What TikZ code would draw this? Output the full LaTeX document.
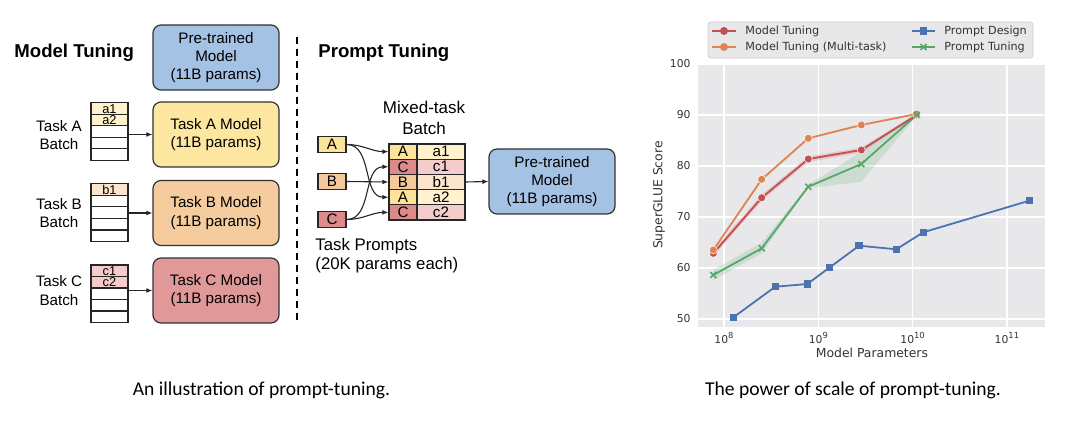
\documentclass[tikz,border=0pt]{standalone}
\usepackage{fontspec}
\setmainfont{Liberation Sans}
\newfontfamily\plotfont{DejaVu Sans}
\newfontfamily\capfont{Carlito}
\usetikzlibrary{arrows.meta}

\definecolor{pretrainblue}{HTML}{A4C2E4}
\definecolor{modelyellow}{HTML}{FCE6A0}
\definecolor{modelorange}{HTML}{F4CC9E}
\definecolor{modelred}{HTML}{E09898}
\definecolor{tagyellow}{HTML}{FBE49A}
\definecolor{tagorange}{HTML}{F3C89A}
\definecolor{tagred}{HTML}{DC8A8A}
\definecolor{cellyellow}{HTML}{FFF2CC}
\definecolor{cellorange}{HTML}{FCE5CD}
\definecolor{cellred}{HTML}{F4CCCC}
\definecolor{plotbg}{HTML}{E8E8EA}
\definecolor{plottext}{HTML}{333333}
\definecolor{mtcol}{HTML}{C44E52}
\definecolor{mmcol}{HTML}{DD8452}
\definecolor{pdcol}{HTML}{4C72B0}
\definecolor{ptcol}{HTML}{55A868}

\newcommand\expo[1]{10\raisebox{2.2pt}{\fontsize{4.2}{4.2}\selectfont #1}}

\begin{document}
\begin{tikzpicture}[x=0.5pt,y=-0.5pt,
  modelbox/.style={draw=black!80, line width=0.6pt, rounded corners=4pt, minimum width=63pt, minimum height=32.5pt, inner sep=0pt, align=center, font=\fontsize{7.6}{9.2}\selectfont},
  cell/.style={draw=black!85, line width=0.55pt, minimum width=18.5pt, minimum height=5.75pt, inner sep=0pt, font=\fontsize{6.4}{6.4}\selectfont},
  tag/.style={draw=black!85, line width=0.55pt, minimum width=14pt, minimum height=7.6pt, inner sep=0pt, font=\fontsize{7.6}{7.6}\selectfont},
  tagval/.style={tag, minimum width=24pt},
  tasklabel/.style={align=center, font=\fontsize{7.6}{9.4}\selectfont},
  heading/.style={anchor=west, inner sep=0pt, font=\fontsize{9.3}{9.3}\selectfont\bfseries},
  arr/.style={-{Latex[length=3pt,width=2.4pt]}, line width=0.55pt, black!85},
  ticklab/.style={inner sep=0pt, text=plottext, font=\plotfont\fontsize{5.4}{5.4}\selectfont},
  axlab/.style={inner sep=0pt, text=plottext, font=\plotfont\fontsize{6.2}{6.2}\selectfont},
  legtext/.style={anchor=west, inner sep=0pt, text=plottext, font=\plotfont\fontsize{5.6}{5.6}\selectfont},
  gridline/.style={white, line width=0.6pt},
  caption/.style={inner sep=0pt, font=\capfont\fontsize{9.8}{9.8}\selectfont}]
\useasboundingbox (0,0) rectangle (1080,427);

\node[heading] (mtHead) at (14,53) {Model Tuning};
\node[modelbox, fill=pretrainblue] (pretrainL) at (216,57.5) {Pre-trained\\Model\\(11B params)};
\node[modelbox, fill=modelyellow] (modelA) at (216,134.5) {Task A Model\\(11B params)};
\node[modelbox, fill=modelorange] (modelB) at (216,213) {Task B Model\\(11B params)};
\node[modelbox, fill=modelred] (modelC) at (216,290.5) {Task C Model\\(11B params)};

\node[tasklabel] (labA) at (59,135) {Task A\\Batch};
\node[tasklabel] (labB) at (59,213) {Task B\\Batch};
\node[tasklabel] (labC) at (59,290.5) {Task C\\Batch};

\node[cell, fill=cellyellow] (a1) at (109.5,108.7) {a1};
\node[cell, fill=cellyellow] (a2) at (109.5,120.2) {a2};
\node[cell] (a3) at (109.5,131.7) {};
\node[cell] (a4) at (109.5,143.2) {};
\node[cell] (a5) at (109.5,154.7) {};
\node[cell, fill=cellorange] (b1) at (109.5,189.7) {b1};
\node[cell] (b2) at (109.5,201.2) {};
\node[cell] (b3) at (109.5,212.7) {};
\node[cell] (b4) at (109.5,224.2) {};
\node[cell] (b5) at (109.5,235.7) {};
\node[cell, fill=cellred] (c1) at (109.5,270.7) {c1};
\node[cell, fill=cellred] (c2) at (109.5,282.2) {c2};
\node[cell] (c3) at (109.5,293.7) {};
\node[cell] (c4) at (109.5,305.2) {};
\node[cell] (c5) at (109.5,316.7) {};

\draw[arr] (modelA.west -| a3.east) -- (modelA.west);
\draw[arr] (modelB.west -| b3.east) -- (modelB.west);
\draw[arr] (modelC.west -| c3.east) -- (modelC.west);

\draw[line width=1pt, dash pattern=on 3.5pt off 2.5pt] (297,37) -- (297,322);

\node[heading] (ptHead) at (318,53) {Prompt Tuning};
\node[tasklabel, font=\fontsize{8.5}{10.5}\selectfont] (mixLab) at (424,117.5) {Mixed-task\\Batch};

\node[tag, fill=tagyellow] (pA) at (332,144.5) {A};
\node[tag, fill=tagorange] (pB) at (332,181.5) {B};
\node[tag, fill=tagred] (pC) at (332,219.5) {C};
\node[tasklabel, anchor=west, align=left, inner sep=0pt, font=\fontsize{8.4}{9.6}\selectfont] (promptLab) at (315,255.5) {Task Prompts\\(20K params each)};

\node[tag, fill=tagyellow] (mA1) at (403,151.6) {A};
\node[tag, fill=tagred] (mC1) at (403,166.8) {C};
\node[tag, fill=tagorange] (mB1) at (403,182) {B};
\node[tag, fill=tagyellow] (mA2) at (403,197.2) {A};
\node[tag, fill=tagred] (mC2) at (403,212.4) {C};
\node[tagval, fill=cellyellow] (ma1) at (441,151.6) {a1};
\node[tagval, fill=cellred] (mc1) at (441,166.8) {c1};
\node[tagval, fill=cellorange] (mb1) at (441,182) {b1};
\node[tagval, fill=cellyellow] (ma2) at (441,197.2) {a2};
\node[tagval, fill=cellred] (mc2) at (441,212.4) {c2};

\node[modelbox, fill=pretrainblue] (pretrainR) at (552,181.5) {Pre-trained\\Model\\(11B params)};

\draw[arr] (pA.east) to[out=0,in=180] (mA1.west);
\draw[arr] (pA.east) to[out=0,in=180] (mA2.west);
\draw[arr] (pB.east) -- (mB1.west);
\draw[arr] (pC.east) to[out=0,in=180] (mC1.west);
\draw[arr] (pC.east) to[out=0,in=180] (mC2.west);
\draw[arr] (mb1.east) -- (pretrainR.west);

\begin{scope}[shift={(-30.4,574)}, x=47.15pt, y=2.55pt]
\fill[plotbg] (7.724,48.43) rectangle (11.404,100);
\draw[gridline] (8,48.43) -- (8,100);
\draw[gridline] (9,48.43) -- (9,100);
\draw[gridline] (10,48.43) -- (10,100);
\draw[gridline] (11,48.43) -- (11,100);
\draw[gridline] (7.724,50) -- (11.404,50);
\draw[gridline] (7.724,60) -- (11.404,60);
\draw[gridline] (7.724,70) -- (11.404,70);
\draw[gridline] (7.724,80) -- (11.404,80);
\draw[gridline] (7.724,90) -- (11.404,90);
\draw[gridline] (7.724,100) -- (11.404,100);
\node[ticklab, anchor=east] (y50) at (7.65,50) {50};
\node[ticklab, anchor=east] (y60) at (7.65,60) {60};
\node[ticklab, anchor=east] (y70) at (7.65,70) {70};
\node[ticklab, anchor=east] (y80) at (7.65,80) {80};
\node[ticklab, anchor=east] (y90) at (7.65,90) {90};
\node[ticklab, anchor=east] (y100) at (7.65,100) {100};
\node[ticklab] (x8) at (8,46.3) {\expo{8}};
\node[ticklab] (x9) at (9,46.3) {\expo{9}};
\node[ticklab] (x10) at (10,46.3) {\expo{10}};
\node[ticklab] (x11) at (11,46.3) {\expo{11}};
\node[axlab] (xTitle) at (9.569,43.3) {Model Parameters};
\node[axlab, rotate=90] (yTitle) at (7.311,74.3) {SuperGLUE Score};

\fill[mtcol, opacity=0.2] (7.887,63.5) -- (8.40,74.4) -- (8.894,81.9) -- (9.456,83.6) -- (10.043,90.3) -- (10.043,89.7) -- (9.456,82.6) -- (8.894,80.8) -- (8.40,73.2) -- (7.887,62.3) -- cycle;
\fill[ptcol, opacity=0.18] (7.887,59.6) -- (8.40,65.0) -- (8.894,76.3) -- (9.456,82.8) -- (10.043,90.2) -- (10.043,89.8) -- (9.456,76.9) -- (8.894,75.7) -- (8.40,62.9) -- (7.887,57.6) -- cycle;

\draw[pdcol, line width=0.9pt] (8.099,50.33) -- (8.544,56.33) -- (8.883,56.86) -- (9.117,60.06) -- (9.432,64.37) -- (9.827,63.67) -- (10.113,67.0) -- (11.238,73.2);
\fill[pdcol] (8.099,50.33) +(-1.85pt,-1.85pt) rectangle +(1.85pt,1.85pt);
\fill[pdcol] (8.544,56.33) +(-1.85pt,-1.85pt) rectangle +(1.85pt,1.85pt);
\fill[pdcol] (8.883,56.86) +(-1.85pt,-1.85pt) rectangle +(1.85pt,1.85pt);
\fill[pdcol] (9.117,60.06) +(-1.85pt,-1.85pt) rectangle +(1.85pt,1.85pt);
\fill[pdcol] (9.432,64.37) +(-1.85pt,-1.85pt) rectangle +(1.85pt,1.85pt);
\fill[pdcol] (9.827,63.67) +(-1.85pt,-1.85pt) rectangle +(1.85pt,1.85pt);
\fill[pdcol] (10.113,67.0) +(-1.85pt,-1.85pt) rectangle +(1.85pt,1.85pt);
\fill[pdcol] (11.238,73.2) +(-1.85pt,-1.85pt) rectangle +(1.85pt,1.85pt);

\draw[ptcol, line width=0.9pt] (7.887,58.63) -- (8.40,63.86) -- (8.894,75.94) -- (9.456,80.39) -- (10.043,90.0);
\draw[ptcol, line width=0.8pt] (7.887,58.63) +(-1.5pt,-1.5pt) -- +(1.5pt,1.5pt) +(-1.5pt,1.5pt) -- +(1.5pt,-1.5pt);
\draw[ptcol, line width=0.8pt] (8.40,63.86) +(-1.5pt,-1.5pt) -- +(1.5pt,1.5pt) +(-1.5pt,1.5pt) -- +(1.5pt,-1.5pt);
\draw[ptcol, line width=0.8pt] (8.894,75.94) +(-1.5pt,-1.5pt) -- +(1.5pt,1.5pt) +(-1.5pt,1.5pt) -- +(1.5pt,-1.5pt);
\draw[ptcol, line width=0.8pt] (9.456,80.39) +(-1.5pt,-1.5pt) -- +(1.5pt,1.5pt) +(-1.5pt,1.5pt) -- +(1.5pt,-1.5pt);

\draw[mtcol, line width=0.9pt] (7.887,62.88) -- (8.40,73.78) -- (8.894,81.37) -- (9.456,83.14) -- (10.043,90.0);
\filldraw[fill=mtcol, draw=white, line width=0.25pt] (7.887,62.88) circle (2pt);
\filldraw[fill=mtcol, draw=white, line width=0.25pt] (8.40,73.78) circle (2pt);
\filldraw[fill=mtcol, draw=white, line width=0.25pt] (8.894,81.37) circle (2pt);
\filldraw[fill=mtcol, draw=white, line width=0.25pt] (9.456,83.14) circle (2pt);
\filldraw[fill=mtcol, draw=white, line width=0.25pt] (10.043,90.0) circle (2pt);

\draw[mmcol, line width=0.9pt] (7.887,63.53) -- (8.40,77.39) -- (8.894,85.43) -- (9.456,88.04) -- (10.043,90.2);
\filldraw[fill=mmcol, draw=white, line width=0.25pt] (7.887,63.53) circle (2pt);
\filldraw[fill=mmcol, draw=white, line width=0.25pt] (8.40,77.39) circle (2pt);
\filldraw[fill=mmcol, draw=white, line width=0.25pt] (8.894,85.43) circle (2pt);
\filldraw[fill=mmcol, draw=white, line width=0.25pt] (9.456,88.04) circle (2pt);
\filldraw[fill=mmcol, draw=white, line width=0.25pt] (10.043,90.2) circle (2pt);
\draw[ptcol, line width=0.8pt] (10.043,90.0) +(-1.5pt,-1.5pt) -- +(1.5pt,1.5pt) +(-1.5pt,1.5pt) -- +(1.5pt,-1.5pt);
\end{scope}

\draw[fill=plotbg, draw=black!20, line width=0.4pt, rounded corners=1.5pt] (708,22) rectangle (1033,58);
\draw[mtcol, line width=0.9pt] (712,31) -- (736,31);
\fill[mtcol] (724,31) circle (2pt);
\node[legtext] (legMT) at (745,31) {Model Tuning};
\draw[mmcol, line width=0.9pt] (712,47) -- (736,47);
\fill[mmcol] (724,47) circle (2pt);
\node[legtext] (legMM) at (745,47) {Model Tuning (Multi-task)};
\draw[pdcol, line width=0.9pt] (912,31) -- (935,31);
\fill[pdcol] (923.5,31) +(-1.85pt,-1.85pt) rectangle +(1.85pt,1.85pt);
\node[legtext] (legPD) at (944,31) {Prompt Design};
\draw[ptcol, line width=0.9pt] (912,47) -- (935,47);
\draw[ptcol, line width=0.8pt] (923.5,47) +(-1.5pt,-1.5pt) -- +(1.5pt,1.5pt) +(-1.5pt,1.5pt) -- +(1.5pt,-1.5pt);
\node[legtext] (legPT) at (944,47) {Prompt Tuning};

\node[caption] (capLeft) at (261.5,390) {An illustration of prompt-tuning.};
\node[caption] (capRight) at (853,390) {The power of scale of prompt-tuning.};
\end{tikzpicture}
\end{document}
